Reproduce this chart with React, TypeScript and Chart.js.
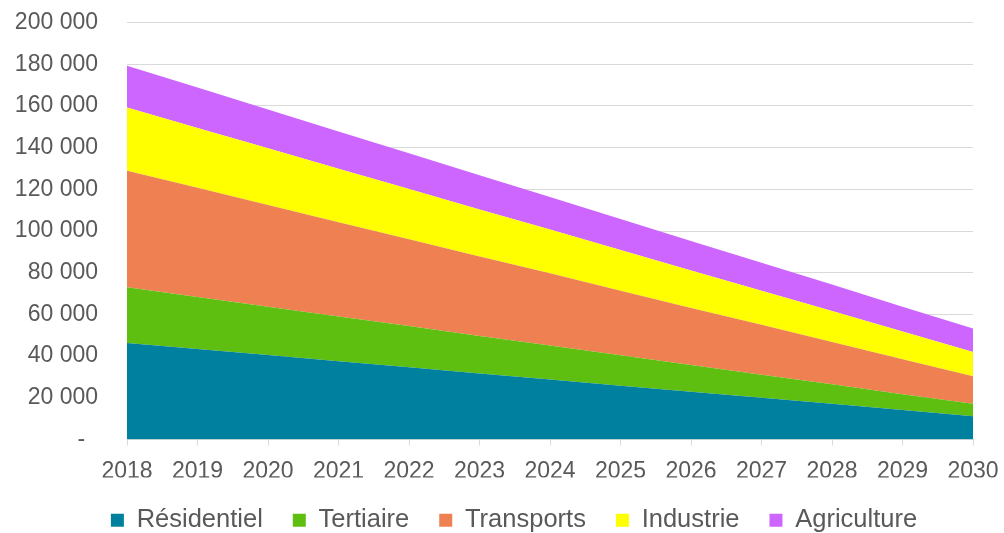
import React, { useEffect, useRef } from "react";
import { Chart, registerables } from "chart.js";

Chart.register(...registerables);

// Emissions par secteur, 2018–2030
const years = ["2018", "2019", "2020", "2021", "2022", "2023", "2024", "2025", "2026", "2027", "2028", "2029", "2030"];

const residentiel = [46300, 43400, 40500, 37500, 34600, 31700, 28800, 25800, 22900, 20000, 17100, 14100, 11200];
const tertiaire = [26700, 25000, 23200, 21500, 19800, 18000, 16300, 14600, 12800, 11100, 9400, 7600, 5900];
const transports = [55900, 52300, 48800, 45200, 41700, 38100, 34600, 31000, 27400, 23900, 20300, 16800, 13200];
const industrie = [30300, 28700, 27200, 25600, 24100, 22500, 21000, 19500, 17900, 16400, 14800, 13300, 11700];
const agriculture = [20100, 19400, 18600, 17900, 17100, 16400, 15600, 14900, 14200, 13400, 12700, 11900, 11200];

const seriesNames = ["Résidentiel", "Tertiaire", "Transports", "Industrie", "Agriculture"];
const seriesValues = [residentiel, tertiaire, transports, industrie, agriculture];
const seriesColors = ["#00809F", "#5FBF10", "#EE8052", "#FFFF00", "#CC66FF"];

const yMax = 200000;
const yStep = 20000;

const FONT = "'Liberation Sans', Arial, sans-serif";
const TEXT = "#595959";
const GRID = "#D9D9D9";

function formatTick(v: number): string {
  if (v === 0) return "-  ";
  return String(v).replace(/\B(?=(\d{3})+(?!\d))/g, " ");
}

// Nudges the legend row to the right so it sits under the plot area
const legendShift = {
  id: "legendShift",
  afterLayout(chart: any) {
    if (chart.legend) chart.legend.left += 24;
  },
};

export default function App() {
  const ref = useRef<HTMLCanvasElement | null>(null);

  useEffect(() => {
    if (!ref.current) return;
    const chart = new Chart(ref.current, {
      type: "line",
      data: {
        labels: years,
        datasets: seriesNames.map((name, i) => ({
          label: name,
          data: seriesValues[i],
          backgroundColor: seriesColors[i],
          borderColor: seriesColors[i],
          borderWidth: 0,
          pointRadius: 0,
          tension: 0,
          fill: i === 0 ? "origin" : "-1",
        })),
      },
      options: {
        animation: false,
        responsive: true,
        maintainAspectRatio: false,
        layout: { padding: 0 },
        plugins: {
          tooltip: { enabled: false },
          legend: {
            position: "bottom",
            labels: {
              boxWidth: 13,
              boxHeight: 13,
              padding: 30,
              color: TEXT,
              font: { family: FONT, size: 25.5 },
            },
          },
        },
        scales: {
          x: {
            offset: false,
            grid: {
              drawOnChartArea: false,
              drawTicks: true,
              tickLength: 6,
              color: GRID,
            },
            border: { display: true, color: GRID, width: 1 },
            ticks: {
              color: TEXT,
              padding: 12,
              maxRotation: 0,
              autoSkip: false,
              font: { family: FONT, size: 23 },
            },
            afterFit: (scale: any) => {
              scale.height = 38;
              scale.paddingLeft = 0;
              scale.paddingRight = 31;
            },
          },
          y: {
            stacked: true,
            min: 0,
            max: yMax,
            grid: { color: GRID, lineWidth: 1, drawTicks: false },
            border: { display: false },
            ticks: {
              stepSize: yStep,
              color: TEXT,
              padding: 29,
              font: { family: FONT, size: 23 },
              callback: (v: any) => formatTick(Number(v)),
            },
            afterFit: (scale: any) => {
              scale.width = 127;
              scale.paddingTop = 22.5;
              scale.paddingBottom = 0;
            },
          },
        },
      },
      plugins: [legendShift],
    });
    return () => chart.destroy();
  }, []);

  return (
    <div style={{ position: "fixed", left: 0, top: 0, width: 1004, height: 543, background: "#fff" }}>
      <canvas ref={ref} />
    </div>
  );
}
